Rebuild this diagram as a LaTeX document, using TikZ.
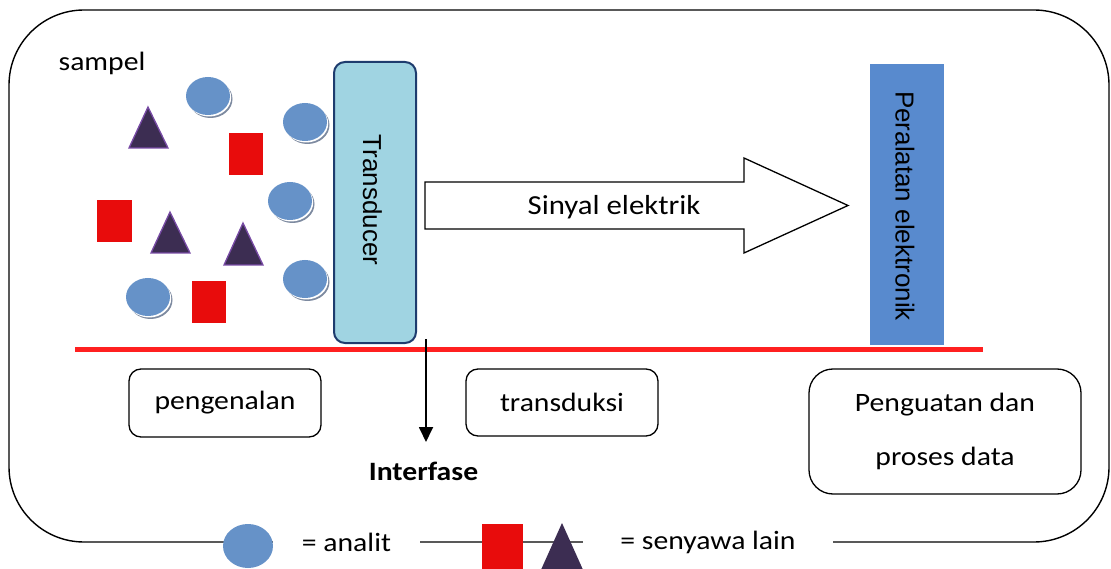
\documentclass[tikz,border=0pt]{standalone}
\usepackage{fontspec}
\setmainfont{Carlito}[FakeStretch=1.12]
\newfontfamily\arialf{Liberation Sans}
\usetikzlibrary{arrows.meta}
\definecolor{analitblue}{RGB}{102,146,200}
\definecolor{shadowgray}{RGB}{125,138,160}
\definecolor{triafill}{RGB}{60,45,82}
\definecolor{triaedge}{RGB}{120,75,165}
\definecolor{sqred}{RGB}{232,12,12}
\definecolor{transfill}{RGB}{160,212,226}
\definecolor{transedge}{RGB}{30,60,110}
\definecolor{peralfill}{RGB}{88,138,206}
\definecolor{linered}{RGB}{255,32,32}
\tikzset{
  boxnode/.style={draw=black, line width=1.3pt, rounded corners=12pt, inner sep=0pt},
  lbl/.style={inner sep=0pt},
  tria/.style={fill=triafill, draw=triaedge, line width=1.3pt, line join=miter},
  sq/.style={fill=sqred},
  analitpic/.pic={
    \fill[shadowgray] (2.5,3) ellipse [x radius=22, y radius=19];
    \fill[white] (1.2,1.5) ellipse [x radius=22, y radius=19];
    \fill[analitblue] (0,0) ellipse [x radius=22, y radius=19];
  },
  legtext/.style={fill=white, inner sep=0pt, minimum height=26pt}
}
\begin{document}
\begin{tikzpicture}[x=1pt, y=-1pt, font=\fontsize{26.5}{32}\selectfont]
\useasboundingbox (0,0) rectangle (1111,569);

% outer frame
\draw[line width=1.4pt, rounded corners=75pt] (9,10) rectangle (1109,542);

% sample label
\node[lbl] (sampel) at (102,63) {sampel};

% analytes
\pic at (208,96) {analitpic};
\pic at (305,122) {analitpic};
\pic at (290,201) {analitpic};
\pic at (305,279) {analitpic};
\pic at (148,297) {analitpic};

% other compounds: triangles
\draw[tria] (148,107) -- (168,148) -- (129,148) -- cycle;
\draw[tria] (170,212) -- (190,253) -- (151,253) -- cycle;
\draw[tria] (243,223) -- (263,265) -- (224,265) -- cycle;

% squares
\fill[sq] (229,133) rectangle (263,175);
\fill[sq] (97,200) rectangle (132,242);
\fill[sq] (192,281) rectangle (226,323);

% transducer
\node[draw=transedge, fill=transfill, line width=2pt, rounded corners=11pt,
      minimum width=82pt, minimum height=281pt, inner sep=0pt] (trans) at (375,202.5) {};
\node[lbl, rotate=-90, font=\arialf\fontsize{26}{30}\selectfont] (translbl) at (372.5,200) {Transducer};

% signal arrow
\draw[line width=1.3pt, line join=miter] (425,182) -- (744,182) -- (744,158) -- (848,205.5)
  -- (744,253) -- (744,229) -- (425,229) -- cycle;
\node[lbl, font=\fontsize{27.5}{32}\selectfont] (sig) at (614,207) {Sinyal elektrik};

% electronic equipment
\node[fill=peralfill, minimum width=74pt, minimum height=281pt, inner sep=0pt] (peral) at (907,204.5) {};
\node[lbl, rotate=-90, font=\arialf\fontsize{26}{30}\selectfont] (perallbl) at (905,206) {Peralatan elektronik};

% red interface line
\coordinate (rl) at (75,349);
\coordinate (rr) at (983,349);
\draw[linered, line width=5pt] (rl) -- (rr);

% interface arrow
\coordinate (ifstart) at (426,339);
\coordinate (ifend) at (426,442);
\draw[line width=1.8pt, -{Triangle[length=15pt, width=14pt]}] (ifstart) -- (ifend);
\node[lbl, font=\bfseries\fontsize{26.5}{32}\selectfont] (interfase) at (423.5,471) {Interfase};

% stage boxes
\node[boxnode, minimum width=192pt, minimum height=68pt] (pengenalan) at (225,403) {pengenalan};
\node[boxnode, minimum width=192pt, minimum height=67pt] (transduksi) at (562,402.5) {transduksi};
\node[boxnode, rounded corners=24pt, minimum width=272pt, minimum height=125pt, align=center,
      font=\fontsize{26.5}{53.5}\selectfont] (penguatan) at (945,431.5) {Penguatan dan\\proses data};

% legend
\fill[analitblue] (248,546) ellipse [x radius=25, y radius=22];
\node[legtext, minimum width=147pt] (legan) at (346.5,542) {= analit};
\fill[sqred] (482,524) rectangle (523,572);
\fill[triafill] (562,523) -- (584,572) -- (540,572) -- cycle;
\node[legtext, minimum width=250pt] (leglain) at (708,542) {= senyawa lain};
\end{tikzpicture}
\end{document}
